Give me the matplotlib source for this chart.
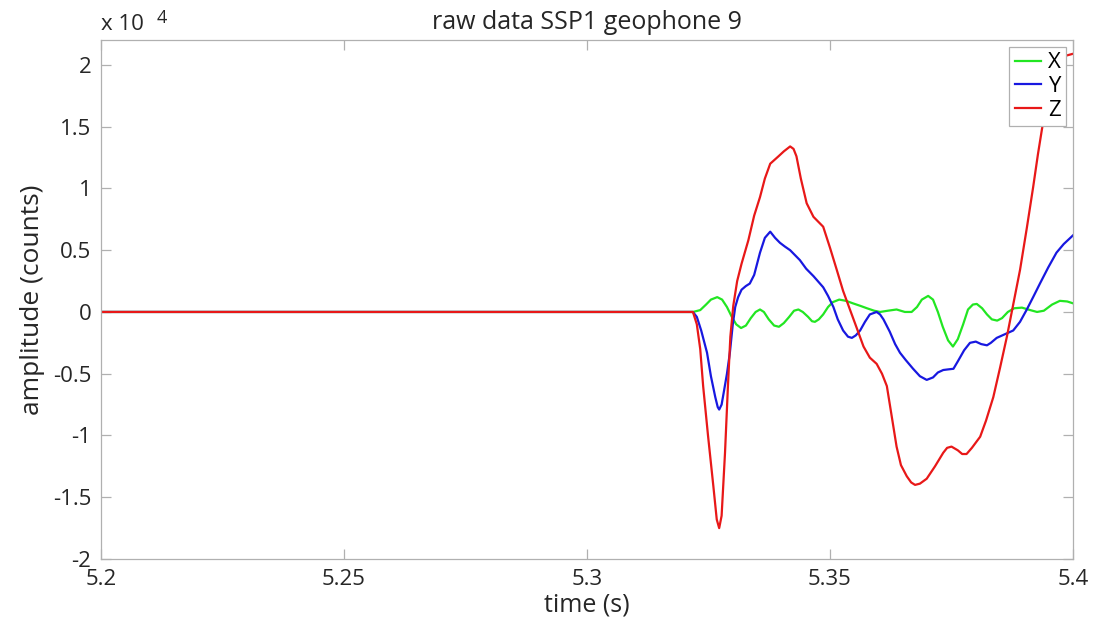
import matplotlib
matplotlib.use('Agg')
import matplotlib.pyplot as plt
from matplotlib.ticker import FuncFormatter

t_x = [5.2, 5.3218, 5.3233, 5.3245, 5.3255, 5.3268, 5.3278, 5.3288, 5.3298,
       5.3307, 5.3317, 5.3327, 5.3337, 5.3347, 5.3356, 5.3364, 5.3374, 5.3385,
       5.3395, 5.3405, 5.3416, 5.3426, 5.3435, 5.3444, 5.3455, 5.3463, 5.3469,
       5.3477, 5.3486, 5.3496, 5.3506, 5.3519, 5.3533, 5.3547, 5.3562, 5.3576,
       5.3591, 5.3603, 5.3619, 5.3637, 5.3654, 5.3668, 5.3679, 5.3689, 5.3702,
       5.3712, 5.3722, 5.3732, 5.3743, 5.3753, 5.3763, 5.3774, 5.3784, 5.3794,
       5.3802, 5.3813, 5.3823, 5.3833, 5.3844, 5.3854, 5.3866, 5.3879, 5.3895,
       5.3912, 5.3926, 5.3940, 5.3957, 5.3973, 5.3988, 5.4]
amp_x = [0, 0, 150, 600, 1000, 1200, 1000, 400, -400,
         -1000, -1300, -1100, -500, 0, 200, 0, -600, -1100,
         -1200, -900, -400, 100, 200, 0, -400, -750, -800,
         -600, -200, 400, 800, 1000, 900, 700, 500, 300,
         100, 0, 100, 200, 0, 0, 400, 1000, 1300,
         1000, 0, -1200, -2300, -2800, -2200, -1000, 200, 600,
         650, 300, -200, -600, -700, -500, 0, 300, 350,
         150, 0, 100, 600, 900, 850, 700]

t_y = [5.2, 5.3218, 5.3226, 5.3235, 5.3247, 5.3255, 5.3264, 5.3269, 5.3272,
       5.3277, 5.3281, 5.3288, 5.3294, 5.3300, 5.3305, 5.3311, 5.3318, 5.3327,
       5.3335, 5.3344, 5.3356, 5.3366, 5.3377, 5.3387, 5.3397, 5.3407, 5.3418,
       5.3428, 5.3438, 5.3451, 5.3466, 5.3486, 5.3496, 5.3507, 5.3516, 5.3527,
       5.3537, 5.3545, 5.3553, 5.3562, 5.3572, 5.3582, 5.3596, 5.3603, 5.3610,
       5.3623, 5.3634, 5.3644, 5.3656, 5.3671, 5.3685, 5.3699, 5.3712, 5.3722,
       5.3733, 5.3743, 5.3754, 5.3763, 5.3776, 5.3788, 5.3800, 5.3811, 5.3823,
       5.3831, 5.3843, 5.3860, 5.3877, 5.3891, 5.3905, 5.3918, 5.3932, 5.3949,
       5.3966, 5.3981, 5.4]
amp_y = [0, 0, -400, -1500, -3300, -5200, -6900, -7700, -7900,
         -7500, -6600, -5000, -3300, -1000, 400, 1200, 1800, 2100,
         2300, 3000, 4800, 6000, 6500, 6000, 5600, 5300, 5000,
         4600, 4200, 3500, 2900, 2000, 1300, 400, -600, -1500,
         -2000, -2100, -1900, -1500, -800, -200, 0, -200, -600,
         -1600, -2600, -3300, -3900, -4600, -5200, -5500, -5300, -4900,
         -4700, -4650, -4600, -4000, -3100, -2500, -2400, -2600, -2700,
         -2500, -2100, -1800, -1500, -800, 200, 1200, 2300, 3600,
         4800, 5500, 6200]

t_z = [5.2, 5.3218, 5.3226, 5.3233, 5.3239, 5.3249, 5.3260, 5.3267, 5.3272,
       5.3277, 5.3284, 5.3290, 5.3295, 5.3301, 5.3309, 5.3318, 5.3332, 5.3344,
       5.3356, 5.3366, 5.3377, 5.3394, 5.3405, 5.3418, 5.3425, 5.3431, 5.3440,
       5.3452, 5.3466, 5.3486, 5.3500, 5.3514, 5.3527, 5.3541, 5.3556, 5.3569,
       5.3582, 5.3596, 5.3607, 5.3617, 5.3626, 5.3637, 5.3646, 5.3658, 5.3667,
       5.3675, 5.3685, 5.3699, 5.3716, 5.3733, 5.3741, 5.3750, 5.3763, 5.3772,
       5.3781, 5.3792, 5.3809, 5.3821, 5.3836, 5.3850, 5.3864, 5.3877, 5.3891,
       5.3905, 5.3918, 5.3928, 5.3939, 5.3949, 5.3959, 5.3969, 5.3981, 5.4]
amp_z = [0, 0, -1000, -3000, -6000, -10000, -14100, -16800, -17500,
         -16500, -11400, -6000, -2000, 500, 2500, 3900, 5800, 7800,
         9300, 10800, 12000, 12600, 13000, 13400, 13200, 12600, 10800,
         8800, 7700, 6900, 5200, 3400, 1700, 200, -1400, -2800,
         -3700, -4200, -5000, -6000, -8200, -10900, -12400, -13300, -13800,
         -14000, -13900, -13500, -12500, -11400, -11000, -10900, -11200, -11500,
         -11500, -11000, -10100, -8800, -6900, -4500, -2000, 600, 3400,
         6800, 10100, 12800, 15500, 17800, 19500, 20300, 20700, 20900]

series = [("X", t_x, amp_x, "#22e622"), ("Y", t_y, amp_y, "#1818e0"), ("Z", t_z, amp_z, "#e81818")]

plt.rcParams['font.family'] = ['Open Sans', 'DejaVu Sans']
txt = "#262626"
edge = "#b0b0b0"

fig = plt.figure(figsize=(10.94, 6.38), dpi=100)
ax = fig.add_axes([0.0923, 0.1238, 0.8885, 0.8132])

for name, t, a, c in series:
    ax.plot(t, a, color=c, linewidth=1.6, label=name)

ax.set_xlim(5.2, 5.4)
ax.set_ylim(-20000, 22000)
ax.set_xticks([5.2, 5.25, 5.3, 5.35, 5.4])
ax.set_yticks([-20000, -15000, -10000, -5000, 0, 5000, 10000, 15000, 20000])
ax.xaxis.set_major_formatter(FuncFormatter(lambda v, p: f"{v:g}"))
ax.yaxis.set_major_formatter(FuncFormatter(lambda v, p: f"{v / 1e4:g}"))

for s in ax.spines.values():
    s.set_color(edge)
    s.set_linewidth(0.9)
ax.tick_params(direction="in", length=7, width=0.9, color=edge,
               labelsize=16, labelcolor=txt, top=True, right=True, pad=7)

ax.set_xlabel("time (s)", fontsize=18, color=txt, labelpad=2)
ax.set_ylabel("amplitude (counts)", fontsize=19, color=txt, labelpad=6)
ax.set_title("raw data SSP1 geophone 9", fontsize=18, color=txt, pad=8)
ax.text(0, 1.01, "x 10", transform=ax.transAxes, fontsize=16,
        color=txt, ha="left", va="bottom")
ax.text(0.057, 1.026, "4", transform=ax.transAxes, fontsize=13,
        color=txt, ha="left", va="bottom")

leg = ax.legend(loc="upper right", fontsize=16, handlelength=1.2, handletextpad=0.3,
                borderpad=0.25, labelspacing=0.12, fancybox=False,
                framealpha=1, borderaxespad=0.3)
leg.get_frame().set_edgecolor(edge)
leg.get_frame().set_linewidth(0.9)

fig.savefig("out.png", dpi=100, facecolor="white")
